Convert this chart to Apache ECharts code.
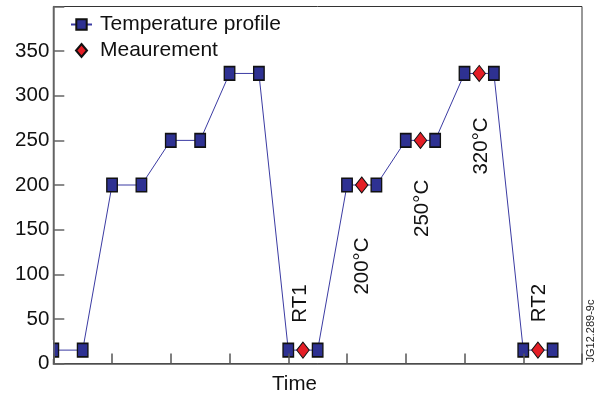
<!DOCTYPE html>
<html><head><meta charset="utf-8">
<script src="https://cdn.jsdelivr.net/npm/echarts@6/dist/echarts.min.js"></script>
<style>html,body{margin:0;padding:0;background:#fff}#c{width:597px;height:399px}</style>
</head><body><div id="c"></div>
<script>
// ---- data ----
const profileTime = [0, 0.5, 1, 1.5, 2, 2.5, 3, 3.5, 4, 4.5, 5, 5.5, 6, 6.5, 7, 7.5, 8, 8.5];
const profileTemp = [15, 15, 200, 200, 250, 250, 325, 325, 15, 15, 200, 200, 250, 250, 325, 325, 15, 15];
const measureTime = [4.25, 5.25, 6.25, 7.25, 8.25];
const measureTemp = [15, 200, 250, 325, 15];
const measureLabels = ['RT1', '200°C', '250°C', '320°C', 'RT2'];
const yTickLabels = ['0', '50', '100', '150', '200', '250', '300', '350'];
const seriesNames = ['Temperature profile', 'Meaurement'];
const xAxisTitle = 'Time';
const figureId = 'JG12.289-9c';

// ---- style (screen offsets of rotated labels, px) ----
const labelScreenOffsets = [[-2.5, -46.5], [1, 81], [1.5, 68], [2, 72.5], [1, -47]];

const FONT = 'Liberation Sans, Arial, Helvetica, sans-serif';
const chart = echarts.init(document.getElementById('c'), null, {renderer: 'canvas'});

const profileData = profileTime.map((t, i) => [t, profileTemp[i]]);
const measureData = measureTime.map((t, i) => ({
  value: [t, measureTemp[i]],
  label: {
    show: true,
    formatter: measureLabels[i],
    rotate: 90,
    position: 'inside',
    align: 'center',
    verticalAlign: 'middle',
    offset: [-labelScreenOffsets[i][1], labelScreenOffsets[i][0]],
    fontSize: 20.5,
    fontFamily: FONT,
    color: '#111'
  }
}));

chart.setOption({
  animation: false,
  backgroundColor: '#fff',
  textStyle: {fontFamily: FONT},
  grid: {left: 53.3, right: 15, top: 6.5, bottom: 35.5, show: true, borderColor: '#333', borderWidth: 1, backgroundColor: 'transparent'},
  legend: {
    orient: 'vertical', left: 70, top: 14, itemGap: 5, padding: 0,
    itemWidth: 21, itemHeight: 13,
    textStyle: {fontSize: 21, color: '#111', fontFamily: FONT, padding: [0, 0, 0, 3]},
    data: [
      {name: seriesNames[0]},
      {name: seriesNames[1], icon: 'path://M5.5,0L11,6.5L5.5,13L0,6.5Z'}
    ]
  },
  xAxis: {
    type: 'value', min: 0, max: 9, interval: 1, z: 20,
    axisLine: {show: true, lineStyle: {color: '#555', width: 1.5}},
    axisTick: {show: true, inside: true, length: 10, lineStyle: {color: '#555', width: 1.5}},
    axisLabel: {show: false},
    splitLine: {show: false}
  },
  yAxis: {
    type: 'value', min: 0, max: 400, interval: 50, z: 20,
    axisLine: {show: true, lineStyle: {color: '#666', width: 1.5}},
    axisTick: {show: true, inside: true, length: 11, lineStyle: {color: '#666', width: 1.5}},
    axisLabel: {
      fontSize: 20.5, color: '#111', margin: 4, fontFamily: FONT,
      formatter: v => (yTickLabels.indexOf(String(v)) >= 0 ? String(v) : '')
    },
    splitLine: {show: false}
  },
  series: [
    {
      name: seriesNames[0], type: 'line', data: profileData, clip: true,
      symbol: 'rect', symbolSize: [10.5, 13.5], showAllSymbol: true,
      lineStyle: {color: '#3b3ba3', width: 1},
      itemStyle: {color: '#2e3192', borderColor: '#111', borderWidth: 1.5},
      z: 3
    },
    {
      name: seriesNames[1], type: 'scatter', data: measureData,
      symbol: 'diamond', symbolSize: [12.5, 16],
      itemStyle: {color: '#e41e26', borderColor: '#111', borderWidth: 1, opacity: 1},
      z: 4
    }
  ],
  graphic: [
    // mask: the symbol at the left edge is clipped by the plot frame in the reference
    {type: 'rect', z: 10, shape: {x: 45.5, y: 340, width: 7.5, height: 19}, style: {fill: '#fff'}},
    {type: 'text', x: 294.5, y: 384, style: {text: xAxisTitle, font: '20.5px ' + FONT, fill: '#111', textAlign: 'center', textVerticalAlign: 'middle'}},
    {type: 'text', x: 591, y: 331, rotation: Math.PI / 2, style: {text: figureId, font: '11px ' + FONT, fill: '#222', textAlign: 'center', textVerticalAlign: 'middle'}}
  ]
});
</script>
</body></html>
